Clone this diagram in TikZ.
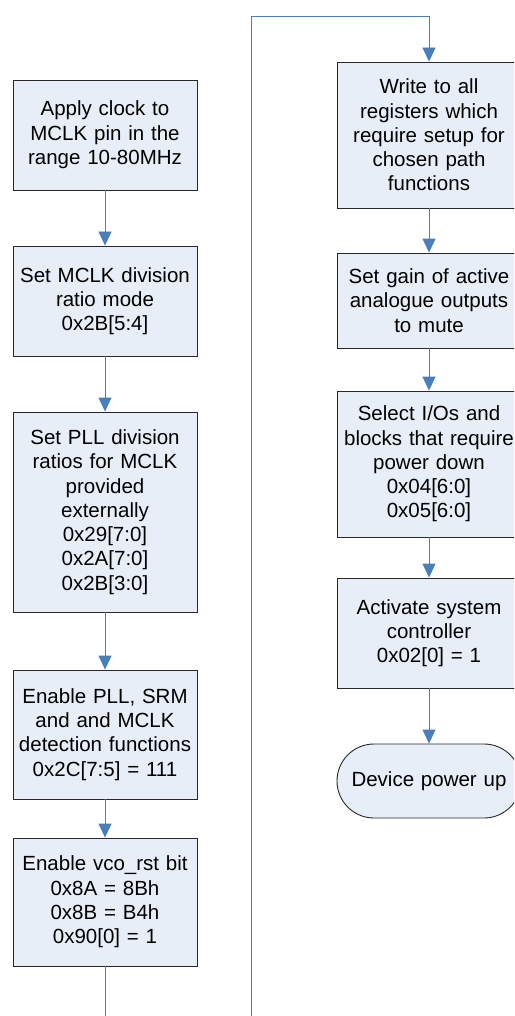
\documentclass[tikz,border=0pt]{standalone}
\usepackage{fontspec}
\setmainfont{Liberation Sans}
\usetikzlibrary{arrows.meta,shapes.misc}
\definecolor{boxfill}{RGB}{232,238,247}
\definecolor{boxline}{RGB}{40,40,40}
\definecolor{flow}{RGB}{74,126,187}
\begin{document}
\begin{tikzpicture}[x=1pt,y=-1pt,
  stepbox/.style={draw=boxline,fill=boxfill,line width=0.9pt,minimum width=184pt,inner sep=0pt,
    text width=180pt,align=center,font=\fontsize{20.5pt}{24.3pt}\selectfont},
  termbox/.style={stepbox,rounded rectangle},
  flowline/.style={draw=flow,line width=0.9pt},
  flowarrow/.style={flowline,-{Triangle[width=13pt,length=14pt]}}]
\useasboundingbox (0,0) rectangle (514,1016);
\begin{scope}
\clip (0,0) rectangle (514,1016);
% left column
\node[stepbox,minimum height=110pt] (b1) at (105,135) {Apply clock to\\MCLK pin in the\\range 10-80MHz};
\node[stepbox,minimum height=110pt] (b2) at (105,301) {Set MCLK division\\ratio mode\\0x2B[5:4]};
\node[stepbox,minimum height=200pt] (b3) at (105,512) {Set PLL division\\ratios for MCLK\\provided\\externally\\0x29[7:0]\\0x2A[7:0]\\0x2B[3:0]};
\node[stepbox,minimum height=129pt] (b4) at (105,734.5) {Enable PLL, SRM\\and and MCLK\\detection functions\\0x2C[7:5] = 111};
\node[stepbox,minimum height=128pt] (b5) at (105,902) {Enable vco\_rst bit\\0x8A = 8Bh\\0x8B = B4h\\0x90[0] = 1};
% right column
\node[stepbox,minimum height=146pt] (r1) at (429,135) {Write to all\\registers which\\require setup for\\chosen path\\functions};
\node[stepbox,minimum height=95pt] (r2) at (429,300.5) {Set gain of active\\analogue outputs\\to mute};
\node[stepbox,minimum height=146pt] (r3) at (429,464) {Select I/Os and\\blocks that require\\power down\\0x04[6:0]\\0x05[6:0]};
\node[stepbox,minimum height=110pt] (r4) at (429,633) {Activate system\\controller\\0x02[0] = 1};
\node[termbox,minimum height=74pt,text width=170pt] (t) at (429,781) {Device power up};
% connectors
\coordinate (lend) at (105,1016);
\coordinate (rstart) at (251,1016);
\coordinate (top) at (251,16);
\draw[flowarrow] (b1) -- (b2);
\draw[flowarrow] (b2) -- (b3);
\draw[flowarrow] (b3) -- (b4);
\draw[flowarrow] (b4) -- (b5);
\draw[flowline] (b5) -- (lend);
\draw[flowarrow] (rstart) -- (top) -| (r1);
\draw[flowarrow] (r1) -- (r2);
\draw[flowarrow] (r2) -- (r3);
\draw[flowarrow] (r3) -- (r4);
\draw[flowarrow] (r4) -- (t);
\end{scope}
\end{tikzpicture}
\end{document}
